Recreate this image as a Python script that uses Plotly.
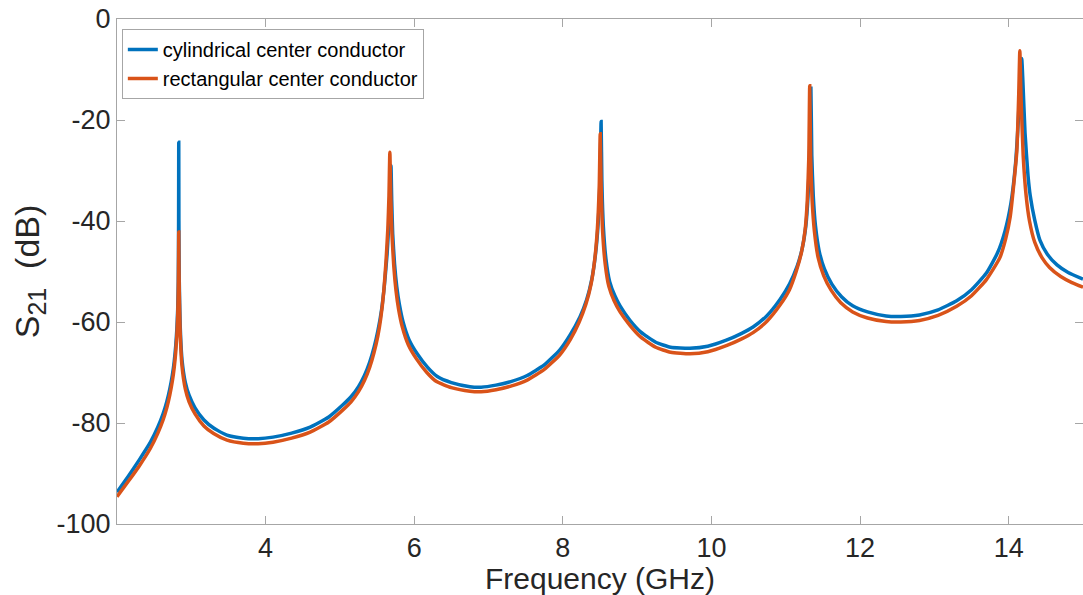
import plotly.graph_objects as go

# Frequency (GHz) and S21 (dB)
freq_cyl = [2.00, 2.15, 2.30, 2.45, 2.55, 2.62, 2.67, 2.71, 2.745, 2.77, 2.79, 2.805, 2.817, 2.825, 2.829, 2.831,
            2.833, 2.838, 2.85, 2.875, 2.92, 2.97, 3.05, 3.17, 3.30, 3.48, 3.70, 3.90, 4.10, 4.35, 4.60, 4.85,
            5.04, 5.15, 5.25, 5.33, 5.40, 5.46, 5.51, 5.56, 5.60, 5.635, 5.66, 5.675, 5.687, 5.697, 5.71, 5.735,
            5.765, 5.80, 5.85, 5.93, 6.04, 6.18, 6.31, 6.50, 6.75, 6.90, 7.10, 7.30, 7.52, 7.75, 7.96, 8.10,
            8.23, 8.32, 8.39, 8.44, 8.475, 8.50, 8.515, 8.525, 8.545, 8.58, 8.63, 8.70, 8.77, 8.90, 9.05, 9.25,
            9.45, 9.71, 9.95, 10.20, 10.40, 10.56, 10.75, 10.92, 11.05, 11.15, 11.22, 11.27, 11.30, 11.32,
            11.338, 11.35, 11.37, 11.40, 11.45, 11.52, 11.62, 11.75, 11.90, 12.10, 12.35, 12.55, 12.80, 13.05,
            13.30, 13.50, 13.70, 13.85, 13.95, 14.03, 14.09, 14.13, 14.16, 14.175, 14.19, 14.22, 14.26, 14.29,
            14.35, 14.42, 14.52, 14.65, 14.80, 15.00]
s21_cyl = [-93.7, -90.6, -87.3, -83.8, -80.8, -78.2, -75.8, -73.3, -70.5, -67.8, -64.8, -61.5, -57.5, -52.0, -40.0, -24.4,
           -40.0, -52.0, -60.5, -67.5, -72.0, -74.5, -77.0, -79.4, -81.0, -82.4, -83.0, -83.1, -82.8, -82.0, -80.8, -78.8,
           -76.4, -74.8, -72.8, -70.6, -68.0, -65.0, -61.8, -57.6, -52.5, -46.5, -40.0, -34.0, -29.0, -36.0, -42.5, -48.5,
           -53.0, -56.5, -60.0, -63.5, -66.3, -69.0, -70.8, -72.0, -72.8, -72.9, -72.5, -71.8, -70.6, -68.5, -65.5, -62.5,
           -59.0, -55.6, -51.5, -46.5, -40.5, -32.0, -20.3, -32.0, -41.0, -47.5, -52.0, -54.8, -56.8, -59.6, -62.0, -64.0,
           -65.0, -65.2, -64.8, -63.6, -62.3, -61.0, -58.7, -55.6, -52.5, -49.1, -45.5, -41.0, -35.0, -27.0,
           -13.7, -27.0, -35.0, -41.0, -46.0, -49.5, -52.5, -55.0, -56.8, -58.0, -58.8, -58.9, -58.6, -57.6,
           -55.8, -53.6, -50.3, -46.3, -42.0, -36.5, -29.0, -20.0, -10.0, -7.8, -12.0, -22.6, -31.0, -35.0,
           -39.8, -43.8, -46.6, -48.7, -50.2, -51.5]

freq_rect = [2.00, 2.15, 2.30, 2.45, 2.55, 2.62, 2.67, 2.71, 2.745, 2.77, 2.79, 2.805, 2.817, 2.825, 2.829, 2.831,
             2.833, 2.838, 2.85, 2.875, 2.92, 2.97, 3.05, 3.17, 3.30, 3.48, 3.70, 3.90, 4.10, 4.35, 4.60, 4.85,
             5.04, 5.15, 5.25, 5.33, 5.40, 5.46, 5.51, 5.55, 5.59, 5.62, 5.645, 5.66, 5.672, 5.684, 5.70, 5.725,
             5.755, 5.79, 5.84, 5.92, 6.03, 6.17, 6.30, 6.50, 6.75, 6.90, 7.10, 7.30, 7.52, 7.75, 7.96, 8.10,
             8.22, 8.31, 8.38, 8.43, 8.465, 8.49, 8.503, 8.515, 8.535, 8.57, 8.62, 8.69, 8.77, 8.90, 9.05, 9.25,
             9.45, 9.71, 9.95, 10.20, 10.40, 10.56, 10.75, 10.92, 11.05, 11.14, 11.21, 11.26, 11.29, 11.31,
             11.322, 11.335, 11.355, 11.385, 11.435, 11.51, 11.61, 11.74, 11.90, 12.10, 12.35, 12.55, 12.80, 13.05,
             13.30, 13.50, 13.70, 13.88, 13.96, 14.02, 14.07, 14.11, 14.135, 14.15, 14.165, 14.195, 14.235, 14.28,
             14.35, 14.45, 14.55, 14.70, 14.85, 15.00]
s21_rect = [-94.6, -91.6, -88.5, -85.0, -82.0, -79.4, -77.0, -74.5, -71.7, -69.0, -66.0, -62.7, -58.7, -53.0, -47.0, -42.2,
            -47.0, -54.0, -62.0, -68.8, -73.3, -75.8, -78.2, -80.6, -82.1, -83.4, -84.0, -84.1, -83.8, -83.0, -81.8, -79.8,
            -77.4, -75.8, -73.8, -71.6, -69.0, -66.0, -62.8, -59.2, -54.0, -48.0, -41.5, -35.0, -26.4, -35.0, -42.5, -49.0,
            -53.8, -57.5, -61.0, -64.5, -67.3, -70.0, -71.8, -73.0, -73.7, -73.8, -73.4, -72.7, -71.5, -69.4, -66.5, -63.5,
            -60.0, -56.5, -52.5, -47.5, -41.5, -33.0, -22.7, -33.0, -42.0, -48.5, -53.0, -55.8, -58.0, -60.6, -63.0, -65.0,
            -66.0, -66.3, -65.9, -64.7, -63.4, -62.1, -59.8, -56.7, -53.6, -50.0, -46.3, -41.8, -35.8, -27.5,
            -13.2, -27.5, -36.0, -42.0, -47.2, -50.8, -53.7, -56.2, -58.0, -59.2, -59.9, -60.0, -59.7, -58.7,
            -56.9, -54.8, -51.6, -47.3, -43.5, -39.2, -32.5, -26.0, -15.0, -6.3, -15.0, -27.0, -35.0, -40.0,
            -44.2, -47.3, -49.2, -51.0, -52.2, -53.1]

x_ticks = [4, 6, 8, 10, 12, 14]
y_ticks = [-100, -80, -60, -40, -20, 0]

FONT = "Liberation Sans, Arial, sans-serif"

fig = go.Figure()
fig.add_trace(go.Scatter(x=freq_cyl, y=s21_cyl, mode="lines", name="cylindrical center conductor",
                         line=dict(color="#0072BD", width=3.5, shape="spline", smoothing=0.5)))
fig.add_trace(go.Scatter(x=freq_rect, y=s21_rect, mode="lines", name="rectangular center conductor",
                         line=dict(color="#D95319", width=3.5, shape="spline", smoothing=0.5)))

axis_common = dict(showline=True, linecolor="#a6a6a6", linewidth=1, mirror="ticks", ticks="inside",
                   ticklen=8, tickcolor="#a6a6a6", showgrid=False, zeroline=False,
                   tickfont=dict(family=FONT, size=27, color="#262626"))

fig.update_layout(
    width=1083, height=595,
    margin=dict(l=117, r=0, t=19, b=71),
    plot_bgcolor="white", paper_bgcolor="white",
    showlegend=True,
    legend=dict(x=0.005, y=0.98, xanchor="left", yanchor="top",
                bgcolor="white", bordercolor="#a6a6a6", borderwidth=1,
                font=dict(family=FONT, size=20, color="#000000"),
                tracegroupgap=0, itemwidth=30),
    xaxis=dict(range=[2, 15], tickvals=x_ticks, ticktext=[str(v) for v in x_ticks],
               title=dict(text="Frequency (GHz)", font=dict(family=FONT, size=30, color="#262626"), standoff=0),
               **axis_common),
    yaxis=dict(range=[-100, 0], tickvals=y_ticks, ticktext=[str(v) for v in y_ticks],
               title=dict(text="S<sub><span style=\"font-size:25px\">21</span></sub>  (dB)",
                          font=dict(family=FONT, size=34, color="#262626"), standoff=6),
               **axis_common),
)

fig.write_html("out.html")
